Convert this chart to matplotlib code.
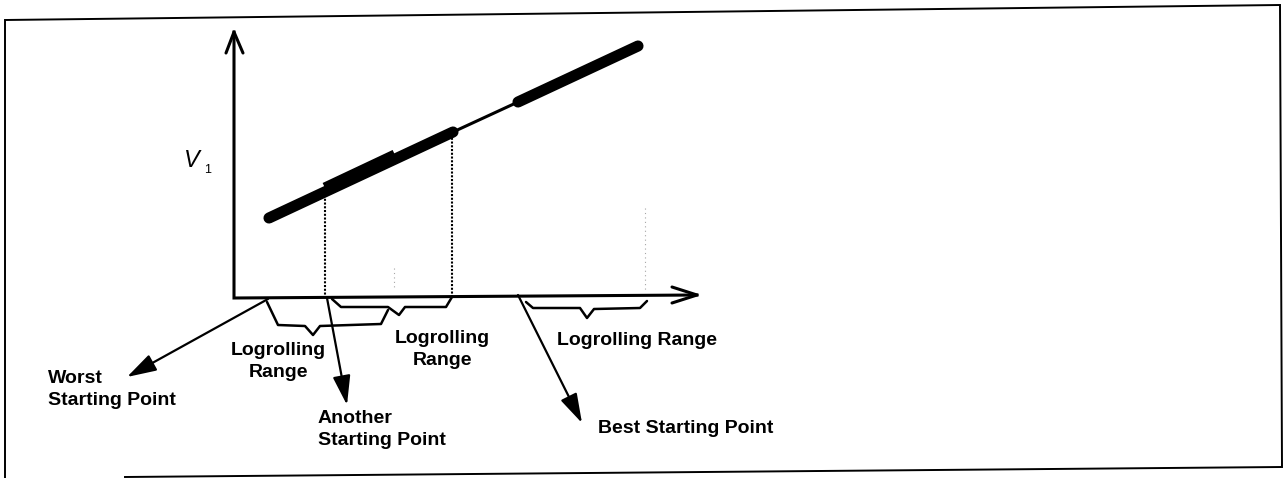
"""
Logrolling ranges along the value line V1, with the best / worst starting points.
"""

import matplotlib
matplotlib.use("Agg")
import matplotlib.pyplot as plt

plt.rcParams['font.family'] = ['Liberation Sans', 'DejaVu Sans']

W_PX, H_PX = 1284, 478

# ── diagram geometry (page pixels, y grows downward) ───────────────────────
ORIGIN = (234, 298)
Y_TIP = (234, 32)
X_TIP = (697, 295)

# value line: thick, thin gap, thick
LINE_X = [269, 453, 518, 638]
LINE_Y = [218, 132, 102, 46]
OVERLAP_X = [325, 395]          # doubled stretch where two ranges overlap
OVERLAP_Y = [188, 155]

DROP_X = [325, 452]             # dotted drops to the axis
DROP_TOP = [195, 134]
FAINT_X = [394, 645]
FAINT_TOP = [268, 208]

# braces under the axis
BRACE1_X = [267, 278, 305, 313, 320, 381, 388]
BRACE1_Y = [302, 325, 326, 335, 326, 324, 310]
BRACE2_X = [332, 341, 388, 399, 405, 446, 452]
BRACE2_Y = [299, 307, 307, 315, 307, 307, 297]
BRACE3_X = [526, 533, 580, 587, 594, 640, 647]
BRACE3_Y = [302, 308, 308, 318, 309, 308, 301]

# starting-point arrows: (tail, head)
ARROW_TAILS = [(268, 299), (327, 298), (518, 295)]
ARROW_HEADS = [(127, 377), (347, 405), (582, 423)]

# labels: (x, cap-top y, text, alignment)
LABELS = [
    (278, 342, 'Logrolling\nRange', 'center'),
    (442, 330, 'Logrolling\nRange', 'center'),
    (557, 332, 'Logrolling Range', 'left'),
    (48, 370, 'Worst\nStarting Point', 'left'),
    (318, 410, 'Another\nStarting Point', 'left'),
    (598, 420, 'Best Starting Point', 'left'),
]

# page frame corners (slightly skewed)
FRAME_X = [5, 1280, 1282, 125]
FRAME_Y = [20, 5, 467, 477]


fig = plt.figure(figsize=(W_PX/100, H_PX/100), dpi=100)
ax = fig.add_axes([0, 0, 1, 1])
ax.set_xlim(0, W_PX)
ax.set_ylim(H_PX, 0)
ax.axis('off')

# frame
ax.plot([FRAME_X[3], FRAME_X[2], FRAME_X[1], FRAME_X[0], FRAME_X[0]],
        [FRAME_Y[3], FRAME_Y[2], FRAME_Y[1], FRAME_Y[0], H_PX + 2],
        color='k', lw=1.4, solid_joinstyle='miter')

# axes with open arrow heads
ax.plot([Y_TIP[0], ORIGIN[0], X_TIP[0]], [Y_TIP[1], ORIGIN[1], X_TIP[1]],
        color='k', lw=2.2, solid_joinstyle='miter')
ax.plot([Y_TIP[0]-8, Y_TIP[0], Y_TIP[0]+9], [Y_TIP[1]+21, Y_TIP[1], Y_TIP[1]+21],
        color='k', lw=2.2, solid_capstyle='round')
ax.plot([X_TIP[0]-25, X_TIP[0], X_TIP[0]-25], [X_TIP[1]-8, X_TIP[1], X_TIP[1]+8],
        color='k', lw=2.2, solid_capstyle='round')

ax.text(184, 167, 'V', fontsize=17, ha='left', va='baseline', fontstyle='italic')
ax.text(204, 173, '1', fontsize=9, ha='left', va='baseline')

# value line
ax.plot(LINE_X[:2], LINE_Y[:2], color='k', lw=8, solid_capstyle='round')
ax.plot(LINE_X[1:3], LINE_Y[1:3], color='k', lw=2.2, solid_capstyle='butt')
ax.plot(LINE_X[2:], LINE_Y[2:], color='k', lw=8, solid_capstyle='round')
ax.plot(OVERLAP_X, OVERLAP_Y, color='k', lw=8, solid_capstyle='butt')

# drops
for x, top in zip(DROP_X, DROP_TOP):
    ax.plot([x, x], [top, ORIGIN[1]], color='k', lw=1.5, ls=(0, (1, 0.8)))
for x, top in zip(FAINT_X, FAINT_TOP):
    ax.plot([x, x], [top, ORIGIN[1] - 8], color='0.65', lw=0.8, ls=(0, (1, 3)))

# braces
for bx, by in [(BRACE1_X, BRACE1_Y), (BRACE2_X, BRACE2_Y), (BRACE3_X, BRACE3_Y)]:
    ax.plot(bx, by, color='k', lw=1.8, solid_joinstyle='round', solid_capstyle='round')

# starting-point arrows
for tail, head in zip(ARROW_TAILS, ARROW_HEADS):
    ax.annotate('', xy=head, xytext=tail,
                arrowprops=dict(arrowstyle='-|>,head_length=1.0,head_width=0.3',
                                mutation_scale=18, lw=1.6, color='k',
                                shrinkA=0, shrinkB=0))

for x, y, s, ha in LABELS:
    ax.text(x, y, s, fontsize=14, fontweight='bold', ha=ha, va='top',
            multialignment=ha, linespacing=1.35)

plt.savefig('out.png', dpi=100)
plt.close()
